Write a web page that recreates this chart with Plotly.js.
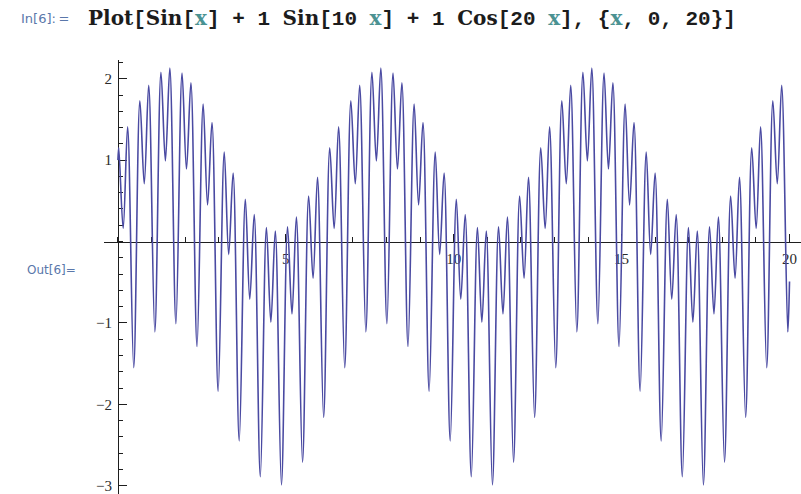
<!DOCTYPE html>
<html>
<head>
<meta charset="utf-8">
<script src="https://cdn.plot.ly/plotly-3.0.1.min.js"></script>
<style>
  html, body { margin: 0; padding: 0; background: #ffffff; }
  #chart { width: 801px; height: 494px; }
</style>
</head>
<body>
<div id="chart"></div>
<script>
// Curve samples (turning points of the plotted curve)
const xVals = [
  0,
  0.025, 0.157, 0.289, 0.471,
  0.654, 0.785, 0.917, 1.100,
  1.282, 1.414, 1.546, 1.728,
  1.910, 2.042, 2.174, 2.356,
  2.539, 2.670, 2.802, 2.985,
  3.167, 3.299, 3.431, 3.613,
  3.795, 3.927, 4.059, 4.241,
  4.423, 4.555, 4.687, 4.870,
  5.052, 5.184, 5.315, 5.498,
  5.680, 5.812, 5.944, 6.126,
  6.308, 6.440, 6.572, 6.754,
  6.937, 7.069, 7.200, 7.383,
  7.565, 7.697, 7.829, 8.011,
  8.193, 8.325, 8.457, 8.639,
  8.822, 8.954, 9.085, 9.268,
  9.450, 9.582, 9.714, 9.896,
  10.078, 10.210, 10.342, 10.524,
  10.707, 10.838, 10.970, 11.153,
  11.335, 11.467, 11.599, 11.781,
  11.963, 12.095, 12.227, 12.409,
  12.592, 12.723, 12.855, 13.038,
  13.220, 13.352, 13.484, 13.666,
  13.848, 13.980, 14.112, 14.294,
  14.477, 14.608, 14.740, 14.923,
  15.105, 15.237, 15.369, 15.551,
  15.733, 15.865, 15.997, 16.179,
  16.362, 16.493, 16.625, 16.808,
  16.990, 17.122, 17.253, 17.436,
  17.618, 17.750, 17.882, 18.064,
  18.247, 18.378, 18.510, 18.693,
  18.875, 19.007, 19.138, 19.321,
  19.503, 19.635, 19.767, 19.949,
  20
];
const yVals = [
  1.00,
  1.15, 0.16, 1.41, -1.55,
  1.73, 0.71, 1.92, -1.11,
  2.08, 0.99, 2.13, -1.01,
  2.07, 0.89, 1.95, -1.29,
  1.69, 0.45, 1.46, -1.84,
  1.10, -0.16, 0.84, -2.45,
  0.52, -0.71, 0.33, -2.89,
  0.17, -0.99, 0.13, -2.99,
  0.18, -0.89, 0.30, -2.71,
  0.56, -0.45, 0.79, -2.16,
  1.15, 0.16, 1.41, -1.55,
  1.73, 0.71, 1.92, -1.11,
  2.08, 0.99, 2.13, -1.01,
  2.07, 0.89, 1.95, -1.29,
  1.69, 0.45, 1.46, -1.84,
  1.10, -0.16, 0.84, -2.45,
  0.52, -0.71, 0.33, -2.89,
  0.17, -0.99, 0.13, -2.99,
  0.18, -0.89, 0.30, -2.71,
  0.56, -0.45, 0.79, -2.16,
  1.15, 0.16, 1.41, -1.55,
  1.73, 0.71, 1.92, -1.11,
  2.08, 0.99, 2.13, -1.01,
  2.07, 0.89, 1.95, -1.29,
  1.69, 0.45, 1.46, -1.84,
  1.10, -0.16, 0.84, -2.45,
  0.52, -0.71, 0.33, -2.89,
  0.17, -0.99, 0.13, -2.99,
  0.18, -0.89, 0.30, -2.71,
  0.56, -0.45, 0.79, -2.16,
  1.15, 0.16, 1.41, -1.55,
  1.73, 0.71, 1.92, -1.11,
  -0.49
];
const xTickVals = [5, 10, 15, 20];
const xTickText = ["5", "10", "15", "20"];
const yTickVals = [-3, -2, -1, 1, 2];
const yTickText = ["\u22123", "\u22122", "\u22121", "1", "2"];

const W = 801, H = 494;
const M = { l: 104, r: 0, t: 60, b: 0 };
const xRange = [-0.414, 20.342];
const yRange = [-3.102, 2.23];
const PW = W - M.l - M.r, PH = H - M.t - M.b;
const px2x = px => (px - M.l) / PW;
const py2y = py => (H - M.b - py) / PH;

const axisColor = '#1e1e1e';
const tickFont = { family: 'Liberation Serif, DejaVu Serif, serif', size: 15, color: '#2a2a2a' };

// letters in a slab serif, punctuation/digits in the monospace base font
const L = t => '<span style="font-family:DejaVu Serif;font-size:20px">' + t + '</span>';
const X = '<span style="font-family:DejaVu Serif;font-size:20px;color:#4b9292">x</span>';
const titleText =
  L('Plot') + '[' + L('Sin') + '[' + X + '] + 1 ' +
  L('Sin') + '[10 ' + X + '] + 1 ' +
  L('Cos') + '[20 ' + X + '], {' + X + ', 0, 20}]';

const trace = {
  x: xVals, y: yVals,
  type: 'scatter', mode: 'lines',
  line: { color: '#4a4aa2', width: 1.6, shape: 'spline', smoothing: 1 },
  hoverinfo: 'skip'
};

const layout = {
  width: W, height: H,
  margin: M,
  paper_bgcolor: '#ffffff', plot_bgcolor: '#ffffff',
  showlegend: false,
  xaxis: {
    range: xRange, anchor: 'free',
    position: (0 - yRange[0]) / (yRange[1] - yRange[0]),
    showline: true, linecolor: axisColor, linewidth: 1,
    ticks: 'inside', ticklen: 8, tickwidth: 1, tickcolor: axisColor,
    tickmode: 'array', tickvals: xTickVals, ticktext: xTickText,
    ticklabelstandoff: 3,
    minor: { ticks: 'inside', ticklen: 4.5, tickwidth: 1, tickcolor: axisColor, dtick: 1, tick0: 0, showgrid: false },
    showgrid: false, zeroline: false, tickfont: tickFont, layer: 'below traces', fixedrange: true
  },
  yaxis: {
    range: yRange, anchor: 'free',
    position: (0 - xRange[0]) / (xRange[1] - xRange[0]),
    showline: true, linecolor: axisColor, linewidth: 1,
    ticks: 'inside', ticklen: 8, tickwidth: 1, tickcolor: axisColor,
    tickmode: 'array', tickvals: yTickVals, ticktext: yTickText,
    ticklabelstandoff: 3,
    minor: { ticks: 'inside', ticklen: 4.5, tickwidth: 1, tickcolor: axisColor, dtick: 0.2, tick0: 0, showgrid: false },
    showgrid: false, zeroline: false, tickfont: tickFont, layer: 'below traces', fixedrange: true
  },
  annotations: [
    {
      xref: 'paper', yref: 'paper', x: px2x(19), y: py2y(18),
      xanchor: 'left', yanchor: 'middle', showarrow: false,
      text: 'In[6]:\u2009=',
      font: { family: 'DejaVu Sans, sans-serif', size: 13, color: '#5a77aa' }
    },
    {
      xref: 'paper', yref: 'paper', x: px2x(86), y: py2y(18),
      xanchor: 'left', yanchor: 'middle', showarrow: false,
      text: titleText,
      font: { family: 'Liberation Mono, Courier New, monospace', size: 21, color: '#1c1c1c', weight: 'bold' }
    },
    {
      xref: 'paper', yref: 'paper', x: px2x(25), y: py2y(270),
      xanchor: 'left', yanchor: 'middle', showarrow: false,
      text: 'Out[6]=',
      font: { family: 'DejaVu Sans, sans-serif', size: 12, color: '#5a77aa' }
    }
  ]
};

Plotly.newPlot('chart', [trace], layout, { displayModeBar: false, staticPlot: true });
</script>
</body>
</html>
